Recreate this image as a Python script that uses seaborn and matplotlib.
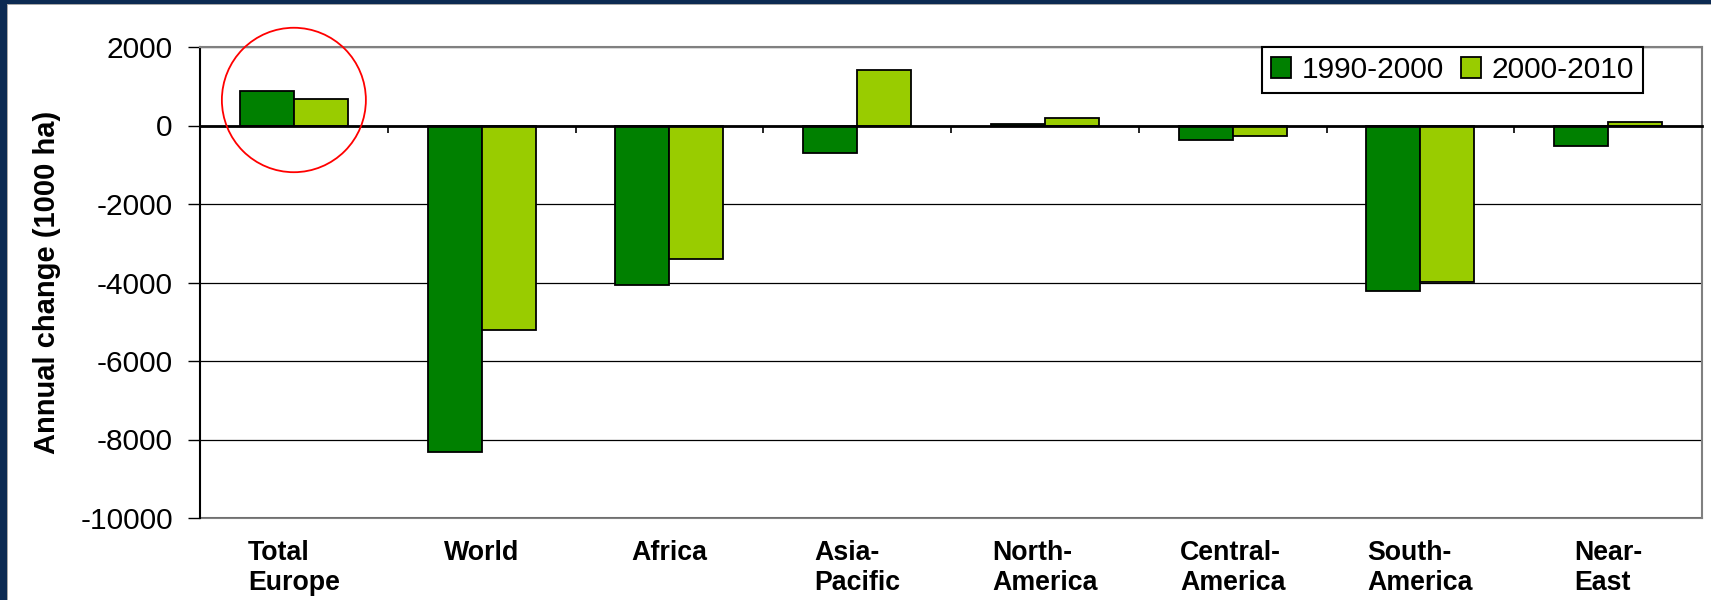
import matplotlib
matplotlib.use("Agg")
import matplotlib.pyplot as plt
from matplotlib.patches import Ellipse, Rectangle
import seaborn as sns
import pandas as pd

# ---- data ----
regions = ["Total\nEurope", "World", "Africa", "Asia-\nPacific", "North-\nAmerica",
           "Central-\nAmerica", "South-\nAmerica", "Near-\nEast"]
periods = ["1990-2000", "2000-2010"]
change_1990_2000 = [877, -8323, -4067, -700, 32, -380, -4213, -525]
change_2000_2010 = [676, -5211, -3414, 1410, 195, -255, -3997, 78]
y_ticks = [2000, 0, -2000, -4000, -6000, -8000, -10000]
colors = ["#008000", "#99CC00"]

df = pd.DataFrame({
    "Region": regions * 2,
    "Period": [periods[0]] * len(regions) + [periods[1]] * len(regions),
    "Value": change_1990_2000 + change_2000_2010,
})

sns.set_style("white")
plt.rcParams["font.family"] = ["Liberation Sans", "DejaVu Sans"]
plt.rcParams["axes.unicode_minus"] = False
for key in ["text.color", "axes.labelcolor", "xtick.color", "ytick.color",
            "xtick.labelcolor", "ytick.labelcolor"]:
    plt.rcParams[key] = "black"

W, H = 1711, 600
fig = plt.figure(figsize=(W / 100, H / 100), dpi=100)
ax = fig.add_axes([200 / W, 1 - 518 / H, 1502 / W, 471 / H])

sns.barplot(data=df, x="Region", y="Value", hue="Period", order=regions,
            hue_order=periods, palette=colors, width=0.575, saturation=1,
            edgecolor="black", linewidth=1.3, ax=ax, zorder=3)

ax.set_ylim(-10000, 2000)
ax.set_xlim(-0.5, len(regions) - 0.5)
ax.set_yticks(y_ticks)
ax.set_yticklabels([str(v) for v in y_ticks], fontsize=21.5, color="black")
ax.tick_params(axis="y", direction="out", length=8.6, width=1, color="black",
               pad=11, left=True)
ax.grid(axis="y", color="black", linewidth=0.9, zorder=0)
ax.set_axisbelow(True)

# category axis at zero with boundary ticks
ax.spines["bottom"].set_position(("data", 0))
ax.spines["bottom"].set_color("black")
ax.spines["bottom"].set_linewidth(2)
ax.spines["bottom"].set_zorder(4)
ax.set_xticks([i - 0.5 for i in range(len(regions) + 1)])
ax.set_xticklabels([])
ax.tick_params(axis="x", direction="out", length=5, width=1.2, color="black", bottom=True)
ax.set_xlabel("")

ax.spines["left"].set_color("black")
ax.spines["left"].set_linewidth(1.5)
for s in ["top", "right"]:
    ax.spines[s].set_color("#808080")
    ax.spines[s].set_linewidth(1.5)

# category labels at the bottom of the plot area
sec = ax.secondary_xaxis("bottom")
sec.set_xticks(range(len(regions)))
sec.set_xticklabels(regions, fontsize=19.3, fontweight="bold", linespacing=1.2,
                    multialignment="left", color="black")
sec.tick_params(axis="x", length=0, pad=16)
sec.spines["bottom"].set_color("#808080")
sec.spines["bottom"].set_linewidth(1.5)

ax.set_ylabel("Annual change (1000 ha)", fontsize=21, fontweight="bold", color="black")
ax.yaxis.label.set_va("center")
ax.yaxis.set_label_coords((47 - 200) / 1502, 0.5)

handles, labels = ax.get_legend_handles_labels()
leg = ax.legend(handles, labels, loc="upper right", bbox_to_anchor=((1643 - 200) / 1502, 1.0),
                borderaxespad=0, ncol=2, fontsize=21.5, frameon=True, fancybox=False,
                handlelength=0.69, handleheight=0.69, handletextpad=0.35,
                columnspacing=0.55, borderpad=0.3)
leg.get_frame().set_edgecolor("black")
leg.get_frame().set_linewidth(1.5)
leg.get_frame().set_facecolor("white")
leg.get_frame().set_alpha(1)
for t in leg.get_texts():
    t.set_color("black")

# highlight circle around Total Europe
ax.add_patch(Ellipse((0, 650), width=0.767, height=3680, fill=False,
                     edgecolor="#FF0000", linewidth=1.3, clip_on=False, zorder=6))

# dark frame at top and left
navy = "#0C2A52"
fig.patches.append(Rectangle((0, 0), 7 / W, 1, transform=fig.transFigure,
                             facecolor=navy, edgecolor="none", zorder=10))
fig.patches.append(Rectangle((0, 1 - 4 / H), 1, 4 / H, transform=fig.transFigure,
                             facecolor=navy, edgecolor="none", zorder=10))
fig.patches.append(Rectangle((7 / W, 0), 1 / W, 1 - 4 / H, transform=fig.transFigure,
                             facecolor="#A8A8A8", edgecolor="none", zorder=10))
fig.patches.append(Rectangle((7 / W, 1 - 5 / H), 1, 1 / H, transform=fig.transFigure,
                             facecolor="#A8A8A8", edgecolor="none", zorder=10))

fig.savefig("out.png", dpi=100, facecolor="white")
